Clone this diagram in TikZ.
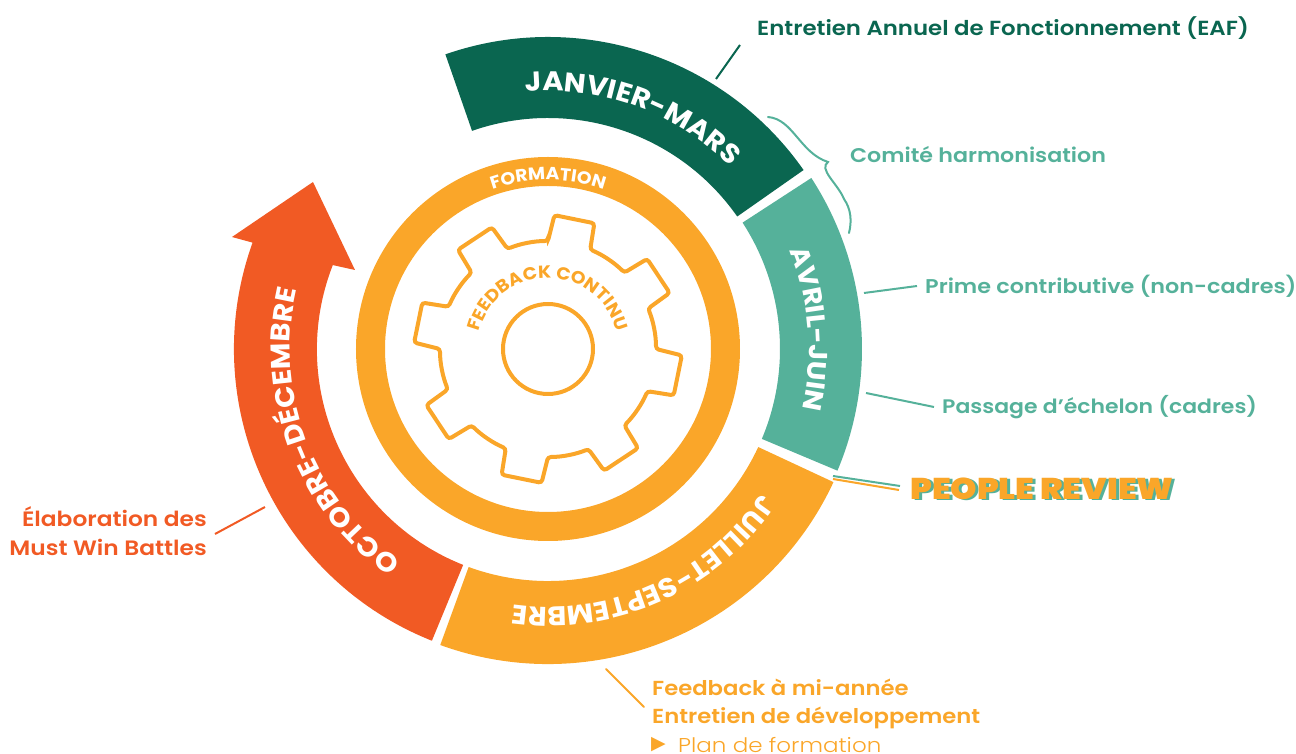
\documentclass[tikz,border=0pt]{standalone}
\usepackage{fontspec}
\setmainfont{Poppins}
\newfontfamily\labelfont{Poppins SemiBold}[FakeStretch=1.12]
\newfontfamily\lightfont{Poppins Light}[FakeStretch=1.15]
\newfontfamily\heavyfont{Poppins Black}[FakeStretch=1.12]
\newfontfamily\bandfont{Poppins}[UprightFont=*-Bold,FakeStretch=1.07]
\newfontfamily\symbfont{DejaVu Sans}
\usetikzlibrary{decorations.text}
\definecolor{darkgreen}{HTML}{0A6650}
\definecolor{teal}{HTML}{55B19A}
\definecolor{amber}{HTML}{FAA629}
\definecolor{rust}{HTML}{F15A24}
\tikzset{
  lead/.style={line width=2pt,#1},
  lbl/.style={inner sep=8pt,anchor=west,text=#1,font=\labelfont\fontsize{20}{28.5}\selectfont},
  curved/.style={decorate,decoration={text along path,text align=center,text={#1}}}
}
\newcommand{\ringpart}[5]{\fill[#5] (#1:#3) arc[start angle=#1,end angle=#2,radius=#3] -- (#2:#4) arc[start angle=#2,end angle=#1,radius=#4] -- cycle;}
\begin{document}
\begin{tikzpicture}[x=1pt,y=1pt]
  \useasboundingbox (-548,-405) rectangle (748,349);
  % quarters
  \ringpart{109.2}{35}{312}{231}{darkgreen}
  \ringpart{33}{-22.8}{314}{232}{teal}
  \ringpart{-25}{-110}{315}{232}{amber}
  \fill[rust] (248.3:314) arc[start angle=248.3,end angle=160.2,radius=314] -- (-316,112) -- (-235,167) -- (-193,79) -- (158.7:231) arc[start angle=158.7,end angle=248.3,radius=232] -- cycle;
  % quarter names
  \path[curved={|\bandfont\fontsize{27}{27}\selectfont\color{white}|JANVIER-MARS}] (115:258) arc[start angle=115,end angle=25,radius=258];
  \path[curved={|\bandfont\fontsize{26}{26}\selectfont\color{white}|AVRIL-JUIN}] (51:261) arc[start angle=51,end angle=-42,radius=261];
  \path[curved={|\bandfont\fontsize{27}{27}\selectfont\color{white}|JUILLET-SEPTEMBRE}] (-16:258) arc[start angle=-16,end angle=-116,radius=258];
  \path[curved={|\bandfont\fontsize{27}{27}\selectfont\color{white}|OCTOBRE-DÉCEMBRE}] (250.5:258) arc[start angle=250.5,end angle=151.5,radius=258];
  % inner ring and gear
  \draw[amber,line width=29pt] (0,0) circle [radius=177.5];
  \path[curved={|\bandfont\fontsize{17.5}{17.5}\selectfont\color{white}|FORMATION}] (120:169) arc[start angle=120,end angle=60,radius=169];
  \draw[amber,line width=4pt,rounded corners=3pt] (90:108) \foreach \t in {78.5,33.5,...,-236.5} {
    -- ({\t+8.75}:134) -- ({\t-8.75}:134) -- ({\t-11.5}:108)
    arc[start angle={\t-11.5},delta angle=-22,radius=108]
  } -- cycle;
  \draw[amber,line width=4pt] (0,0) circle [radius=45];
  \path[curved={|\bandfont\fontsize{17.5}{17.5}\selectfont\color{amber}|FEEDBACK CONTINU}] (175:71) arc[start angle=175,end angle=5,radius=71];
  % labels
  \node[lbl=darkgreen,inner sep=0pt,font=\labelfont\fontsize{20.4}{28.5}\selectfont] (eafLabel) at (209,321) {Entretien Annuel de Fonctionnement (EAF)};
  \node[lbl=teal,inner sep=0pt,font=\labelfont\fontsize{19.8}{28.5}\selectfont] (comiteLabel) at (302,194) {Comité harmonisation};
  \node[lbl=teal,font=\labelfont\fontsize{19.9}{28.5}\selectfont] (primeLabel) at (369,63) {Prime contributive (non-cadres)};
  \node[lbl=teal,font=\labelfont\fontsize{19.6}{28.5}\selectfont] (passageLabel) at (386,-58) {Passage d’échelon (cadres)};
  \node[lbl=teal,font=\heavyfont\fontsize{30}{30}\selectfont] (reviewBack) at (357,-141) {PEOPLE REVIEW};
  \node[lbl=amber,font=\heavyfont\fontsize{30}{30}\selectfont] (reviewLabel) at (354,-140) {PEOPLE REVIEW};
  \node[lbl=amber,align=left,font=\labelfont\fontsize{20.3}{28.5}\selectfont] (feedbackLabel) at (96,-355) {Feedback à mi-année\\Entretien de développement};
  \node[lbl=amber,inner sep=0pt,font=\symbfont\fontsize{19}{19}\selectfont] (planMark) at (103,-396) {▶};
  \node[lbl=amber,inner sep=0pt,font=\lightfont\fontsize{20}{20}\selectfont] (planLabel) at (130,-396) {Plan de formation};
  \node[lbl=rust,anchor=east,align=right,font=\labelfont\fontsize{20.8}{28.5}\selectfont] (mwbLabel) at (-333,-182) {Élaboration des\\Must Win Battles};
  % leaders
  \coordinate (eafA) at (168,270);
  \coordinate (eafB) at (192,304);
  \coordinate (primeA) at (316,56);
  \coordinate (passageA) at (318,-44);
  \coordinate (tealA) at (285,-127);
  \coordinate (tealB) at (352,-137);
  \coordinate (amberA) at (285,-130);
  \coordinate (amberB) at (351,-141);
  \coordinate (feedbackA) at (58,-320);
  \coordinate (mwbA) at (-283,-158);
  \draw[lead=darkgreen] (eafA) -- (eafB);
  \draw[lead=teal] (primeA) -- (primeLabel.west);
  \draw[lead=teal] (passageA) -- (passageLabel.west);
  \draw[lead=teal] (tealA) -- (tealB);
  \draw[lead=amber] (amberA) -- (amberB);
  \draw[lead=amber,line cap=round] (feedbackA) -- ([yshift=-3pt]feedbackLabel.west);
  \draw[lead=rust] (mwbA) -- ([yshift=-3pt]mwbLabel.east);
  % brace
  \coordinate (braceA) at (220,232);
  \coordinate (braceB) at (280,187);
  \coordinate (braceC) at (301,116);
  \draw[lead=teal,line cap=round] (braceA) .. controls (245,230) and (252,196) .. (braceB) .. controls (270,180) and (290,165) .. (296,150) .. controls (303,140) and (304,128) .. (braceC);
\end{tikzpicture}
\end{document}
